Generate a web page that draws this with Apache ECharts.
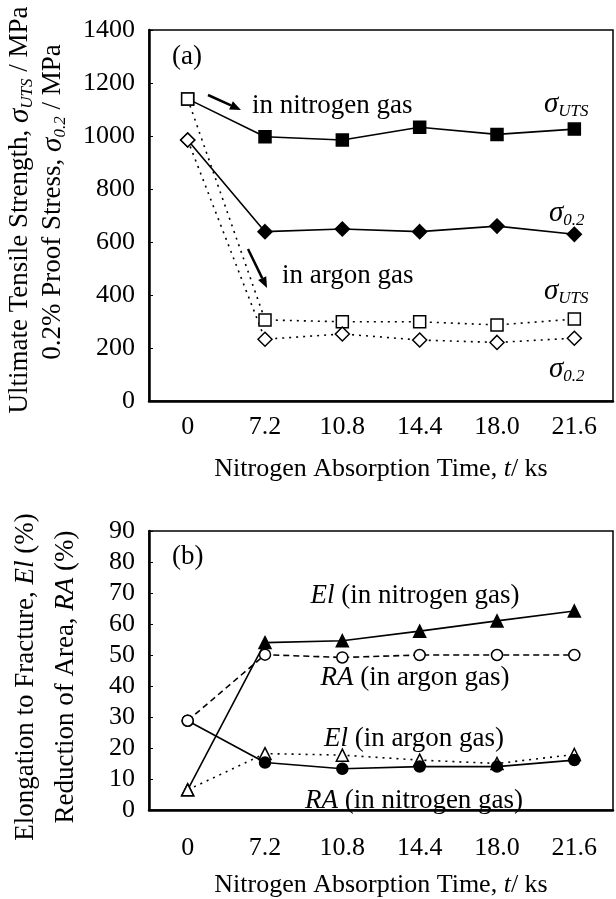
<!DOCTYPE html>
<html><head><meta charset="utf-8">
<script src="https://cdn.jsdelivr.net/npm/echarts@6/dist/echarts.min.js"></script>
<style>html,body{margin:0;padding:0;background:#fff}#c{width:616px;height:899px}</style>
</head><body><div id="c"></div>
<script>
// ---- data ----
const times = ['0', '7.2', '10.8', '14.4', '18.0', '21.6'];
// panel (a) MPa
const utsNitrogen = [1140, 997, 985, 1033, 1006, 1026];
const proofNitrogen = [985, 639, 649, 639, 660, 629];
const utsArgon = [1140, 306, 299, 299, 287, 309];
const proofArgon = [985, 233, 253, 230, 221, 237];
// panel (b) %
const elNitrogen = [6.5, 54.0, 54.6, 57.7, 61.0, 64.2];
const raNitrogen = [28.8, 15.3, 13.3, 14.0, 14.0, 16.1];
const elArgon = [6.5, 18.2, 17.7, 16.1, 15.0, 17.9];
const raArgon = [28.8, 50.1, 49.2, 50.0, 50.0, 50.0];

const FONT = "'Liberation Serif','Times New Roman',serif";
const FS = 27;      // annotation / title text
const TFS = 26;     // tick labels

function ser(data, gi, sym, size, lineType, openMode) {
  const d = data.map((v, i) => {
    const open = openMode === 'all' || (openMode === 'first' && i === 0);
    return { value: v, itemStyle: { color: open ? '#fff' : '#000', borderColor: '#000', borderWidth: 1.5 } };
  });
  return {
    type: 'line', xAxisIndex: gi, yAxisIndex: gi, data: d,
    symbol: sym, symbolSize: size, showSymbol: true,
    lineStyle: { color: '#000', width: 1.6, type: lineType === 'dotted' ? [2, 5] : (lineType === 'dashed' ? [6, 4] : 'solid') },
    animation: false, z: openMode === 'all' ? 2 : 3
  };
}

const sigma = { fontFamily: FONT, fontSize: 29, fontStyle: 'italic', lineHeight: 32, fill: '#000' };
const sub = { fontFamily: FONT, fontSize: 17, fontStyle: 'italic', lineHeight: 16, verticalAlign: 'bottom', fill: '#000' };
const richBase = {
  s: sigma, b: sub,
  i: { fontFamily: FONT, fontSize: FS, fontStyle: 'italic', lineHeight: 32, fill: '#000' }
};

function label(text, x, y, align) {
  return { type: 'text', x: x, y: y, z: 10,
    style: { text: text, rich: richBase, font: FS + 'px ' + FONT, fill: '#000', textAlign: align || 'left', textVerticalAlign: 'middle' } };
}
function vlabel(text, x, y) {
  return { type: 'text', x: x, y: y, rotation: Math.PI / 2, z: 10,
    style: { text: text, rich: richBase, font: FS + 'px ' + FONT, fill: '#000', textAlign: 'center', textVerticalAlign: 'middle' } };
}
function arrow(x1, y1, x2, y2) {
  const ang = Math.atan2(y2 - y1, x2 - x1), L = 11, W = 4.5;
  const bx = x2 - L * Math.cos(ang), by = y2 - L * Math.sin(ang);
  const px = -Math.sin(ang) * W, py = Math.cos(ang) * W;
  return [
    { type: 'line', z: 10, shape: { x1: x1, y1: y1, x2: bx, y2: by }, style: { stroke: '#000', lineWidth: 2.5 } },
    { type: 'polygon', z: 10, shape: { points: [[x2, y2], [bx + px, by + py], [bx - px, by - py]] }, style: { fill: '#000' } }
  ];
}

const axisX = (gi) => ({
  type: 'category', gridIndex: gi, data: times, boundaryGap: true,
  axisLine: { lineStyle: { color: '#000', width: 2.5 } },
  axisTick: { inside: true, length: 5, alignWithLabel: true, lineStyle: { color: '#000', width: 1.5 } },
  axisLabel: { color: '#000', fontFamily: FONT, fontSize: TFS, margin: gi === 0 ? 13 : 25 },
  name: 'Nitrogen Absorption Time, {i|t}/ ks', nameLocation: 'middle', nameGap: gi === 0 ? 55 : 62,
  nameTextStyle: { color: '#000', fontFamily: FONT, fontSize: TFS, rich: { i: { fontFamily: FONT, fontSize: TFS, fontStyle: 'italic' } } },
  splitLine: { show: false }
});
const axisY = (gi, max, interval) => ({
  type: 'value', gridIndex: gi, min: 0, max: max, interval: interval,
  axisLine: { show: true, lineStyle: { color: '#000', width: 2.5 } },
  axisTick: { show: true, inside: true, length: 4, lineStyle: { color: '#000', width: 1 } },
  axisLabel: { color: '#000', fontFamily: FONT, fontSize: TFS, margin: 14, formatter: (v) => String(v) },
  splitLine: { show: false }
});

const chart = echarts.init(document.getElementById('c'), null, { renderer: 'canvas' });
chart.setOption({
  backgroundColor: '#fff',
  animation: false,
  grid: [
    { left: 149, top: 30, width: 464, height: 371, show: true, borderColor: '#000', borderWidth: 1.5 },
    { left: 149, top: 531, width: 464, height: 287, show: true, borderColor: '#000', borderWidth: 1.5 }
  ],
  xAxis: [axisX(0), axisX(1)],
  yAxis: [axisY(0, 1400, 200), axisY(1, 90, 10)],
  series: [
    ser(utsArgon, 0, 'rect', 12, 'dotted', 'all'),
    ser(proofArgon, 0, 'diamond', 14, 'dotted', 'all'),
    ser(utsNitrogen, 0, 'rect', 12, 'solid', 'first'),
    ser(proofNitrogen, 0, 'diamond', 14, 'solid', 'first'),
    ser(raArgon, 1, 'circle', 11, 'dashed', 'all'),
    ser(elArgon, 1, 'triangle', 12, 'dotted', 'all'),
    ser(elNitrogen, 1, 'triangle', 12, 'solid', 'first'),
    ser(raNitrogen, 1, 'circle', 11, 'solid', 'first')
  ],
  graphic: [
    label('(a)', 172, 57),
    label('in nitrogen gas', 252, 106),
    label('{s|σ}{b|UTS}', 544, 104),
    label('{s|σ}{b|0.2}', 549, 213),
    label('in argon gas', 282, 276),
    label('{s|σ}{b|UTS}', 544, 291),
    label('{s|σ}{b|0.2}', 549, 369),
    ...arrow(208, 95, 241, 110),
    ...arrow(248, 249, 267, 288),
    label('(b)', 172, 557),
    label('{i|El} (in nitrogen gas)', 415, 596, 'center'),
    label('{i|RA} (in argon gas)', 415, 678, 'center'),
    label('{i|El} (in argon gas)', 414, 739, 'center'),
    label('{i|RA} (in nitrogen gas)', 414, 801, 'center'),
    vlabel('Ultimate Tensile Strength, {s|σ}{b|UTS} / MPa', 20, 210),
    vlabel('0.2% Proof Stress, {s|σ}{b|0.2} / MPa', 53, 202),
    vlabel('Elongation to Fracture, {i|El} (%)', 26, 677),
    vlabel('Reduction of Area, {i|RA} (%)', 66, 677)
  ]
});
</script></body></html>
